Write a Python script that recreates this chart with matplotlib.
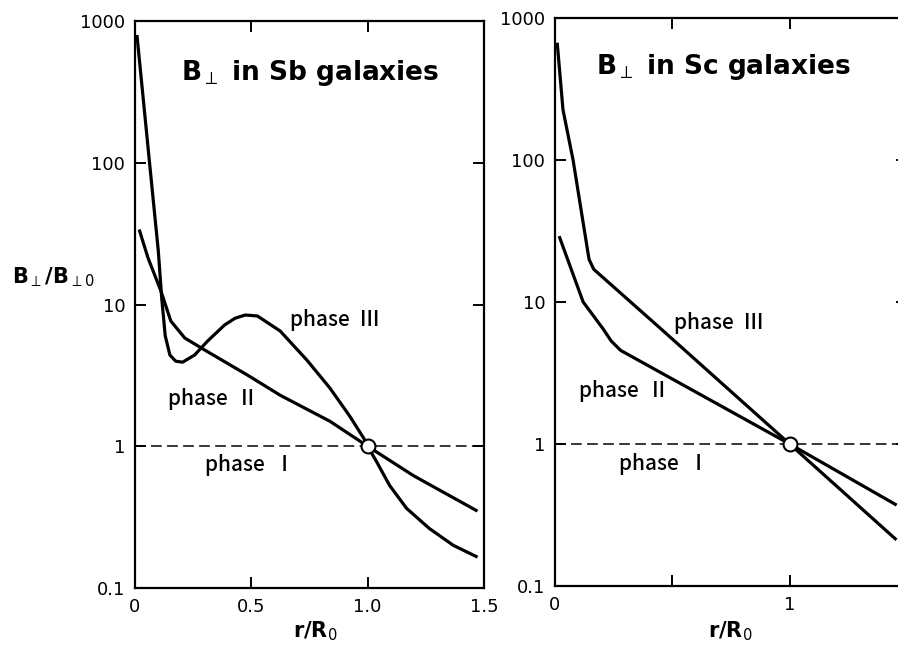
import matplotlib.pyplot as plt
import numpy as np
from matplotlib.ticker import FixedLocator, NullLocator

plt.rcParams['font.family'] = ['DejaVu Sans']

# Sb galaxies
sb_x2 = [0.02, 0.056, 0.111, 0.154, 0.214, 0.30, 0.483, 0.624, 0.838, 1.0, 1.197, 1.466]
sb_y2 = [33, 21.3, 12.5, 7.64, 5.8, 4.77, 3.18, 2.29, 1.5, 1.0, 0.62, 0.353]
sb_x3 = [0.009, 0.06, 0.10, 0.115, 0.13, 0.15, 0.175, 0.205, 0.256, 0.312,
         0.385, 0.43, 0.474, 0.526, 0.624, 0.739, 0.838, 0.923, 0.983, 1.0,
         1.038, 1.094, 1.167, 1.265, 1.368, 1.466]
sb_y3 = [777, 110, 24, 11, 6.0, 4.4, 3.98, 3.92, 4.4, 5.52,
         7.17, 8.0, 8.43, 8.3, 6.5, 4.05, 2.57, 1.63, 1.14, 1.0,
         0.78, 0.53, 0.365, 0.263, 0.2, 0.167]

# Sc galaxies
sc_x2 = [0.02, 0.12, 0.204, 0.24, 0.28, 1.0, 1.45]
sc_y2 = [28.4, 10, 6.5, 5.3, 4.56, 1.0, 0.376]
sc_x3 = [0.01, 0.034, 0.077, 0.145, 0.165, 0.45, 1.0, 1.45]
sc_y3 = [653, 226, 100, 20, 17, 6.5, 1.0, 0.215]

yticks = [0.1, 1, 10, 100, 1000]
ylabels = ['0.1', '1', '10', '100', '1000']

W, H = 898, 645
fig = plt.figure(figsize=(W / 100, H / 100), dpi=100)


def make_axes(l, t, r, b):
    return fig.add_axes([l / W, 1 - b / H, (r - l) / W, (b - t) / H])


def style(ax, xlabels):
    ax.set_yscale('log')
    ax.set_xlim(0, 1.5)
    ax.set_ylim(0.1, 1000)
    ax.yaxis.set_major_locator(FixedLocator(yticks))
    ax.yaxis.set_minor_locator(NullLocator())
    ax.set_yticklabels(ylabels)
    ax.set_xticks([0, 0.5, 1.0, 1.5])
    ax.set_xticklabels(xlabels)
    ax.tick_params(direction='in', length=8, width=1.4, top=True, right=True,
                   labelsize=13, pad=7)
    for s in ax.spines.values():
        s.set_linewidth(1.6)
    ax.axhline(1, color='black', lw=1.1, ls=(0, (7, 3.5)), zorder=1)
    ax.plot([1], [1], 'o', ms=10, mfc='white', mec='black', mew=1.5, zorder=5)


ph = dict(fontsize=15, family=['Noto Sans CJK JP', 'DejaVu Sans'],
          fontweight='medium', va='center')
tt = dict(fontsize=19, fontweight='bold', va='baseline')

ax1 = make_axes(135, 21, 484, 588)
style(ax1, ['0', '0.5', '1.0', '1.5'])
ax1.plot(sb_x2, sb_y2, color='black', lw=2.3)
ax1.plot(sb_x3, sb_y3, color='black', lw=2.3)
ax1.text(0.197, 386, r'B$_\perp$ in Sb galaxies', **tt)
ax1.text(0.667, 7.8, 'phase  Ⅲ', **ph)
ax1.text(0.141, 2.15, 'phase  Ⅱ', **ph)
ax1.text(0.303, 0.734, 'phase  Ⅰ', **ph)

ax2 = make_axes(555, 18, 907, 586)
style(ax2, ['0', '', '1', ''])
ax2.plot(sc_x2, sc_y2, color='black', lw=2.3)
ax2.plot(sc_x3, sc_y3, color='black', lw=2.3)
ax2.text(0.174, 401, r'B$_\perp$ in Sc galaxies', **tt)
ax2.text(0.506, 7.1, 'phase  Ⅲ', **ph)
ax2.text(0.102, 2.38, 'phase  Ⅱ', **ph)
ax2.text(0.272, 0.72, 'phase  Ⅰ', **ph)

fig.text(12 / W, 1 - 277 / H, r'B$_\perp$/B$_{\perp0}$', fontsize=15,
         fontweight='bold', va='center')
fig.text(315 / W, 2 / H, r'r/R$_0$', fontsize=15, fontweight='bold',
         ha='center', va='bottom')
fig.text(730 / W, 2 / H, r'r/R$_0$', fontsize=15, fontweight='bold',
         ha='center', va='bottom')

fig.savefig('out.png', dpi=100)
